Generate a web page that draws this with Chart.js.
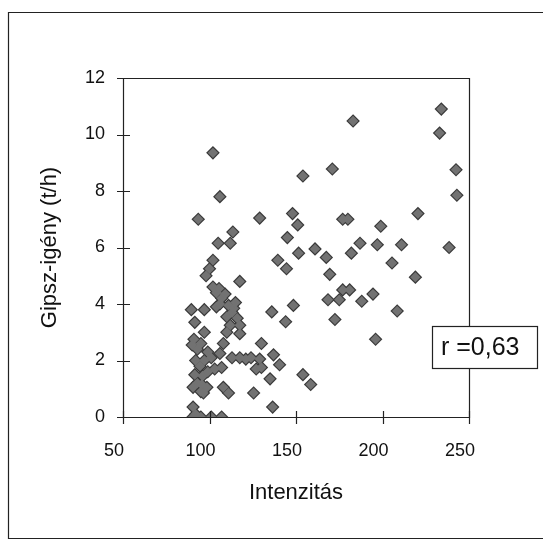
<!DOCTYPE html>
<html>
<head>
<meta charset="utf-8">
<script src="https://cdn.jsdelivr.net/npm/chart.js@4/dist/chart.umd.min.js"></script>
<style>
html,body{margin:0;padding:0;background:#fff;}
#wrap{width:543px;height:543px;position:relative;}
</style>
</head>
<body>
<div id="wrap"><canvas id="c" width="543" height="543"></canvas></div>
<script>
// Data
const intensity = [
  102,106,154,171,183,234,233,242.5,243,177,180,220.5,199,182,187,197,211,205.5,238.5,219,
  177,181,194.5,188,175,169.5,208.5,172.5,196,93.5,129,148,151,113.5,105,112,145,151.5,161,167.5,
  139.5,144.5,102,100,98,117.5,168.5,148.5,136,97,89.5,144,91.5,97,110,117.5,130,137,140.5,124,
  129,127,130,135,154,158.5,108,111,125.5,136.5,102,104,107,109,111,113,116,110,117.5,114,
  104,90,93,99,101,94.5,96,93,98.5,90.5,92,95,108,106,113,107,117.5,103,90.5,90.5,
  95,101,107,92,91,95,97,95.5,99,91.5,96.5,106,115,112,105.5,121
];
const gipsz = [
  9.35,7.8,8.53,8.78,10.48,10.9,10.05,8.75,7.85,7.0,7.0,7.2,6.75,5.8,6.15,6.1,6.1,5.45,6.0,4.95,
  4.5,4.5,4.35,4.1,4.15,5.05,3.75,3.45,2.75,7.0,7.04,7.2,6.8,6.55,6.15,6.15,6.35,5.8,5.95,5.65,
  5.55,5.25,5.55,5.25,5.0,4.8,4.15,3.95,3.72,3.8,3.8,3.37,3.35,3.0,3.0,2.95,2.6,2.2,1.85,2.1,
  2.05,1.7,1.75,1.35,1.5,1.15,1.05,0.85,0.85,0.35,4.6,4.4,4.2,4.35,3.95,3.7,3.5,3.55,3.25,3.85,
  3.9,2.55,2.4,2.3,2.1,1.8,1.45,1.2,1.05,1.05,2.0,0.9,2.6,2.25,2.1,1.75,2.1,1.7,0.35,0,
  0,0,0,0.1,2.75,2.6,2.0,1.15,1.6,1.5,0.85,4.0,4.05,3.25,4.55,2.05
];
const xTicks = [50,100,150,200,250];
const yTicks = [0,2,4,6,8,10,12];
const xTitle = 'Intenzitás';
const yTitle = 'Gipsz-igény (t/h)';
const rLabel = 'r =0,63';

const pts = intensity.map((x,i)=>({x:x,y:gipsz[i]}));
const FONT = "'Liberation Sans', Arial, sans-serif";

const decor = {
  id:'decor',
  beforeDraw(chart){
    const ctx = chart.ctx;
    ctx.save();
    ctx.fillStyle='#fff';
    ctx.fillRect(0,0,chart.width,chart.height);
    ctx.strokeStyle='#222';
    ctx.lineWidth=1.2;
    ctx.beginPath();
    ctx.moveTo(543,12.5); ctx.lineTo(8.5,12.5); ctx.lineTo(8.5,538.5); ctx.lineTo(543,538.5);
    ctx.stroke();
    ctx.restore();
  },
  afterDatasetsDraw(chart){
    const ctx = chart.ctx;
    const xs = chart.scales.x, ys = chart.scales.y;
    const a = chart.chartArea;
    ctx.save();
    ctx.strokeStyle='#222';
    ctx.lineWidth=1.2;
    ctx.beginPath();
    ctx.rect(Math.round(a.left)+0.5, Math.round(a.top)+0.5, Math.round(a.right-a.left), Math.round(a.bottom-a.top));
    ctx.stroke();
    ctx.beginPath();
    xTicks.forEach(v=>{
      const px = Math.round(xs.getPixelForValue(v))+0.5;
      ctx.moveTo(px, a.bottom-6); ctx.lineTo(px, a.bottom+7);
    });
    yTicks.forEach(v=>{
      const py = Math.round(ys.getPixelForValue(v))+0.5;
      ctx.moveTo(a.left-6, py); ctx.lineTo(a.left+7, py);
    });
    ctx.stroke();
    // r box
    const bx=432, by=326, bw=105, bh=42;
    ctx.fillStyle='#fff';
    ctx.fillRect(bx,by,bw,bh);
    ctx.strokeRect(bx+0.5,by+0.5,bw,bh);
    ctx.fillStyle='#111';
    ctx.font = "25px " + FONT;
    ctx.textBaseline='middle';
    ctx.textAlign='left';
    ctx.fillText(rLabel, bx+9, by+bh/2+1);
    ctx.restore();
  }
};

new Chart(document.getElementById('c'), {
  type:'scatter',
  data:{datasets:[
    {data:pts, pointStyle:'rectRot', pointRadius:5.2, backgroundColor:'#727272', borderWidth:0, pointHoverRadius:5.2},
    {data:pts, pointStyle:'rectRot', pointRadius:6.8, backgroundColor:'#383838', borderWidth:0, pointHoverRadius:6.8}
  ]},
  options:{
    responsive:false,
    animation:false,
    events:[],
    layout:{padding:{left:0, top:78, right:74, bottom:0}},
    plugins:{legend:{display:false}, tooltip:{enabled:false}},
    scales:{
      x:{
        type:'linear', min:50, max:250,
        afterBuildTicks(s){ s.ticks = xTicks.map(v=>({value:v})); },
        afterFit(s){ s.height = 126; },
        grid:{display:false, drawTicks:false},
        border:{display:false},
        ticks:{color:'#111', font:{family:FONT, size:18}, padding:23, labelOffset:-9, maxRotation:0},
        title:{display:true, text:xTitle, color:'#111', font:{family:FONT, size:22}, padding:{top:0,bottom:37}}
      },
      y:{
        type:'linear', min:0, max:12,
        afterBuildTicks(s){ s.ticks = yTicks.map(v=>({value:v})); },
        afterFit(s){ s.width = 123; },
        grid:{display:false, drawTicks:false},
        border:{display:false},
        ticks:{color:'#111', font:{family:FONT, size:18}, padding:18},
        title:{display:true, text:yTitle, color:'#111', font:{family:FONT, size:22}, padding:{top:37,bottom:0}}
      }
    }
  },
  plugins:[decor]
});
</script>
</body>
</html>
